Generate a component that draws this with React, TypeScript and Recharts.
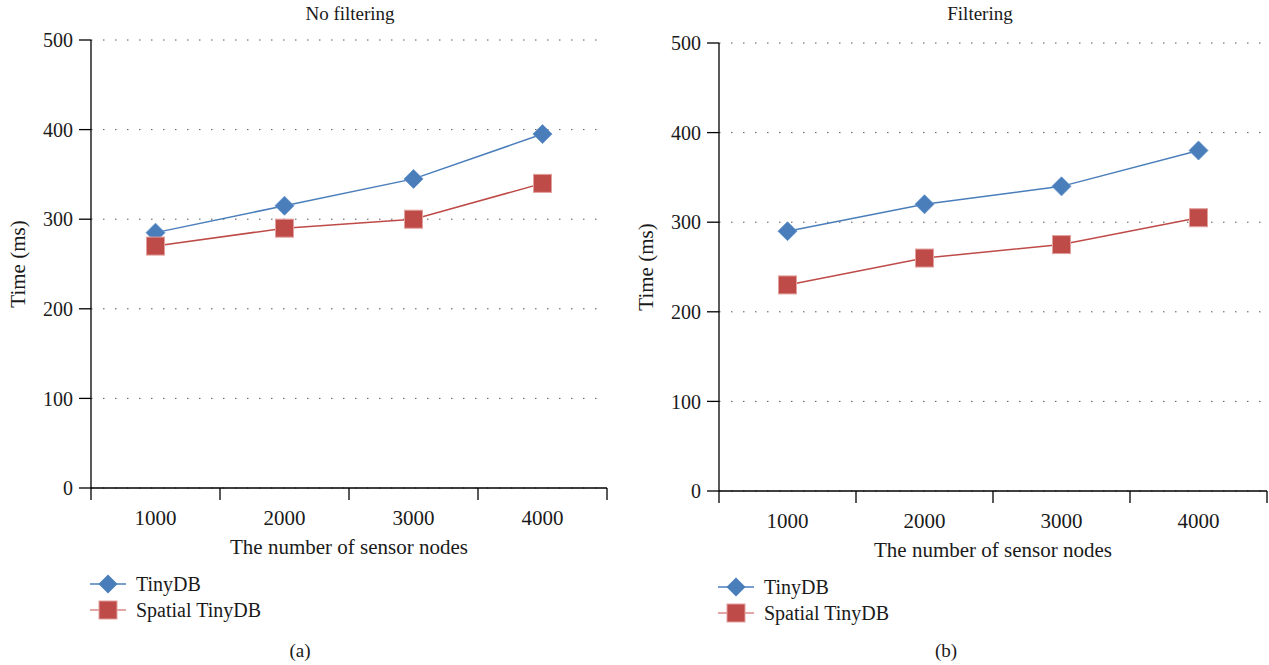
import React from "react";
import {
  LineChart,
  Line,
  XAxis,
  YAxis,
  CartesianGrid,
} from "recharts";

const nodeCounts = ["1000", "2000", "3000", "4000"];
const yTicks = [0, 100, 200, 300, 400, 500];

// (a) no filtering
const tinyDbNoFilter = [285, 315, 345, 395];
const spatialNoFilter = [270, 290, 300, 340];

// (b) filtering
const tinyDbFilter = [290, 320, 340, 380];
const spatialFilter = [230, 260, 275, 305];

const FONT = '"Liberation Serif", "DejaVu Serif", serif';
const BLUE = "#4a7ebb";
const RED = "#be4b48";
const TEXT = "#1a1a1a";

const buildRows = (a: number[], b: number[]) =>
  nodeCounts.map((n, i) => ({ nodes: n, tiny: a[i], spatial: b[i] }));

const Diamond = (props: any) => {
  const { cx, cy } = props;
  if (cx == null || cy == null) return null;
  const r = 9.5;
  return (
    <polygon
      points={`${cx},${cy - r} ${cx + r},${cy} ${cx},${cy + r} ${cx - r},${cy}`}
      fill={BLUE}
      stroke="#5d8fcc"
      strokeWidth={0.8}
    />
  );
};

const Square = (props: any) => {
  const { cx, cy } = props;
  if (cx == null || cy == null) return null;
  const s = 18;
  return (
    <rect
      x={cx - s / 2}
      y={cy - s / 2}
      width={s}
      height={s}
      fill={RED}
      stroke="#e2a09d"
      strokeWidth={1}
    />
  );
};

const makeXTick = (halfBand: number) => (props: any) => {
  const { x, y, payload, index } = props;
  const half = payload && payload.offset ? payload.offset : halfBand;
  return (
    <g>
      <line x1={x - half} x2={x - half} y1={y} y2={y + 12} stroke="#000" strokeWidth={1.3} />
      {index === nodeCounts.length - 1 && (
        <line x1={x + half} x2={x + half} y1={y} y2={y + 12} stroke="#000" strokeWidth={1.3} />
      )}
      <text
        x={x}
        y={y + 30}
        dy="0.355em"
        textAnchor="middle"
        fontSize={21}
        fontFamily={FONT}
        fill={TEXT}
      >
        {payload.value}
      </text>
    </g>
  );
};

const YLabel = (props: any) => {
  const { viewBox } = props;
  const cx = viewBox.x + 18;
  const cy = viewBox.y + viewBox.height / 2;
  return (
    <text
      x={cx}
      y={cy}
      transform={`rotate(-90 ${cx} ${cy})`}
      textAnchor="middle"
      dominantBaseline="central"
      fontSize={21}
      fontFamily={FONT}
      fill={TEXT}
    >
      Time (ms)
    </text>
  );
};

const LegendBox = ({ gap }: { gap: number }) => (
  <div style={{ fontFamily: FONT, fontSize: 20, color: TEXT, lineHeight: "26px" }}>
    {[
      { name: "TinyDB", color: BLUE, shape: "d" },
      { name: "Spatial TinyDB", color: RED, shape: "s" },
    ].map((it) => (
      <div key={it.name} style={{ display: "flex", alignItems: "center", height: 26 }}>
        <svg width={36} height={22} style={{ marginRight: gap }}>
          <line x1={0} x2={36} y1={11} y2={11} stroke={it.shape === "d" ? BLUE : "#d88a87"} strokeWidth={1.6} />
          {it.shape === "d" ? (
            <polygon points="18,1.5 27.5,11 18,20.5 8.5,11" fill={BLUE} />
          ) : (
            <rect x={9} y={2} width={18} height={18} fill={RED} stroke="#e2a09d" strokeWidth={1} />
          )}
        </svg>
        <span>{it.name}</span>
      </div>
    ))}
  </div>
);

type PanelProps = {
  left: number;
  width: number;
  height: number;
  top: number;
  right: number;
  tiny: number[];
  spatial: number[];
  legendGap: number;
};

const Panel = ({ left, width, height, top, right, tiny, spatial, legendGap }: PanelProps) => {
  const rows = buildRows(tiny, spatial);
  const plotW = width - right - 91;
  const halfBand = plotW / nodeCounts.length / 2;
  return (
    <div style={{ position: "absolute", left, top: 0, width, height }}>
      <LineChart width={width} height={height} data={rows} margin={{ top, right, left: 0, bottom: 70 }}>
        <CartesianGrid vertical={false} stroke="#555" strokeDasharray="1.5 10.5" />
        <XAxis
          dataKey="nodes"
          scale="band"
          height={72}
          axisLine={{ stroke: "#000", strokeWidth: 1.3 }}
          tickLine={false}
          tickSize={0}
          tickMargin={0}
          interval={0}
          tick={makeXTick(halfBand)}
          label={{
            value: "The number of sensor nodes",
            position: "insideBottom",
            offset: 6,
            fontSize: 21,
            fontFamily: FONT,
            fill: TEXT,
          }}
        />
        <YAxis
          width={91}
          domain={[0, 500]}
          ticks={yTicks}
          interval={0}
          axisLine={{ stroke: "#000", strokeWidth: 1.3 }}
          tickLine={{ stroke: "#000", strokeWidth: 1.3 }}
          tickSize={12}
          tickMargin={6}
          tick={{ fontSize: 20, fontFamily: FONT, fill: TEXT }}
          label={{ content: YLabel }}
        />
        <Line
          dataKey="tiny"
          name="TinyDB"
          stroke={BLUE}
          strokeWidth={1.5}
          dot={<Diamond />}
          activeDot={false}
          isAnimationActive={false}
        />
        <Line
          dataKey="spatial"
          name="Spatial TinyDB"
          stroke={RED}
          strokeWidth={1.5}
          dot={<Square />}
          activeDot={false}
          isAnimationActive={false}
        />
      </LineChart>
      <div style={{ position: "absolute", left: 90, top: height - 59 }}>
        <LegendBox gap={legendGap} />
      </div>
    </div>
  );
};

const caption: React.CSSProperties = {
  position: "absolute",
  fontFamily: FONT,
  fontSize: 19,
  color: TEXT,
  transform: "translateX(-50%)",
  whiteSpace: "nowrap",
};

export default function App() {
  return (
    <div style={{ position: "absolute", left: 0, top: 0, width: 1269, height: 665, background: "#fff", overflow: "hidden" }}>
      <Panel left={0} width={627} height={630} top={40} right={20} tiny={tinyDbNoFilter} spatial={spatialNoFilter} legendGap={10} />
      <Panel left={628} width={641} height={633} top={43} right={2} tiny={tinyDbFilter} spatial={spatialFilter} legendGap={10} />
      <div style={{ ...caption, left: 350, top: 3 }}>No filtering</div>
      <div style={{ ...caption, left: 980, top: 3 }}>Filtering</div>
      <div style={{ ...caption, left: 300, top: 640 }}>(a)</div>
      <div style={{ ...caption, left: 946, top: 640 }}>(b)</div>
    </div>
  );
}
